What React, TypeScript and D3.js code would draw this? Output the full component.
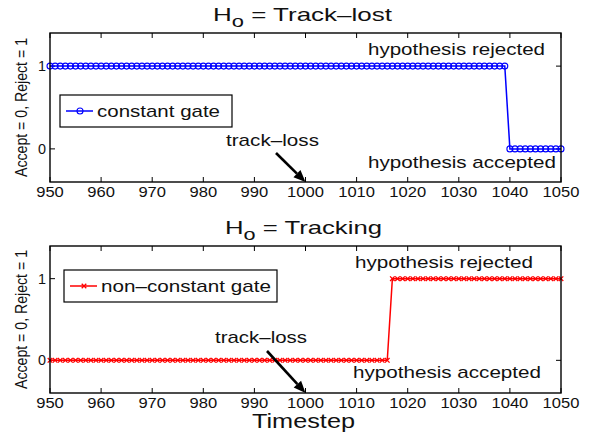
import React from "react";
import * as d3 from "d3";

// Timesteps shown on both panels
const timesteps: number[] = d3.range(950, 1051);
// Timestep at which each test changes its decision
const constantGateSwitch = 1040; // rejects (1) before, accepts (0) from here on
const nonConstantGateSwitch = 1017; // accepts (0) before, rejects (1) from here on
const constantGate: number[] = timesteps.map((t) => (t < constantGateSwitch ? 1 : 0));
const nonConstantGate: number[] = timesteps.map((t) => (t < nonConstantGateSwitch ? 0 : 1));

const xTicks: number[] = [950, 960, 970, 980, 990, 1000, 1010, 1020, 1030, 1040, 1050];
const yTicks: number[] = [0, 1];
const trackLossStep = 1000;

const W = 592;
const H = 437;
const FONT = "'Liberation Sans', Arial, Helvetica, sans-serif";

const left = 50;
const right = 561;
const xScale = d3.scaleLinear().domain([950, 1050]).range([left, right]);

// Wide Helvetica-style text: size sets glyph height, len sets rendered width
function T(props: {
  x: number;
  y: number;
  size: number;
  len: number;
  anchor?: "start" | "middle" | "end";
  children: React.ReactNode;
  transform?: string;
}) {
  return (
    <text
      x={props.x}
      y={props.y}
      fontSize={props.size}
      fontFamily={FONT}
      textAnchor={props.anchor || "start"}
      textLength={props.len}
      lengthAdjust="spacingAndGlyphs"
      transform={props.transform}
      fill="#111"
    >
      {props.children}
    </text>
  );
}

function Marker({ kind, x, y, color }: { kind: "o" | "x"; x: number; y: number; color: string }) {
  if (kind === "o") {
    return <circle cx={x} cy={y} r={3} fill="none" stroke={color} strokeWidth={1.1} />;
  }
  const s = 2.3;
  return (
    <path
      d={`M${x - s},${y - s}L${x + s},${y + s}M${x - s},${y + s}L${x + s},${y - s}`}
      stroke={color}
      strokeWidth={1.3}
    />
  );
}

type PanelProps = {
  top: number;
  bottom: number;
  values: number[];
  color: string;
  marker: "o" | "x";
  title: string;
  titleX: number;
  titleLen: number;
  legend: string;
  legendLen: number;
  legendBox: { x: number; y: number; w: number; h: number };
  rejected: [number, number, number];
  accepted: [number, number, number];
  lossText: [number, number, number];
  arrowStart: [number, number];
};

function Panel(p: PanelProps) {
  const y = d3.scaleLinear().domain([-0.4, 1.4]).range([p.bottom, p.top]);
  const line = d3
    .line<number>()
    .x((_, i) => xScale(timesteps[i]))
    .y((v) => y(v));
  const tickLen = 5;
  const tip: [number, number] = [xScale(trackLossStep), p.bottom];
  const ang = Math.atan2(tip[1] - p.arrowStart[1], tip[0] - p.arrowStart[0]);
  const ah = 12;
  const aw = 5;
  const bx = tip[0] - ah * Math.cos(ang);
  const by = tip[1] - ah * Math.sin(ang);
  const px = -Math.sin(ang) * aw;
  const py = Math.cos(ang) * aw;
  const lb = p.legendBox;
  const ly = lb.y + lb.h / 2;
  return (
    <g>
      <text
        x={p.titleX}
        y={p.top - 12}
        fontSize={19}
        fontFamily={FONT}
        fill="#111"
        textLength={p.titleLen}
        lengthAdjust="spacingAndGlyphs"
      >
        <tspan>H</tspan>
        <tspan fontSize={16} dy={6}>o</tspan>
        <tspan dy={-6}>{" = " + p.title}</tspan>
      </text>
      {/* ticks on all four sides, pointing inward */}
      {xTicks.map((t) => (
        <g key={"x" + t}>
          <line x1={xScale(t)} x2={xScale(t)} y1={p.bottom} y2={p.bottom - tickLen} stroke="#000" />
          <line x1={xScale(t)} x2={xScale(t)} y1={p.top} y2={p.top + tickLen} stroke="#000" />
          <T x={xScale(t)} y={p.bottom + 15} size={14.5} len={String(t).length * 9.2} anchor="middle">
            {t}
          </T>
        </g>
      ))}
      {yTicks.map((t) => (
        <g key={"y" + t}>
          <line x1={left} x2={left + tickLen} y1={y(t)} y2={y(t)} stroke="#000" />
          <line x1={right} x2={right - tickLen} y1={y(t)} y2={y(t)} stroke="#000" />
          <T x={46} y={y(t) + 5} size={14.5} len={8} anchor="end">
            {t}
          </T>
        </g>
      ))}
      <T
        x={0}
        y={0}
        size={16}
        len={139}
        anchor="middle"
        transform={`translate(${27},${(p.top + p.bottom) / 2}) rotate(-90)`}
      >
        Accept = 0, Reject = 1
      </T>
      <path d={line(p.values) || ""} fill="none" stroke={p.color} strokeWidth={1.5} />
      {p.values.map((v, i) => (
        <Marker key={i} kind={p.marker} x={xScale(timesteps[i])} y={y(v)} color={p.color} />
      ))}
      <T x={p.rejected[0]} y={p.rejected[1]} size={17} len={p.rejected[2]}>
        hypothesis rejected
      </T>
      <T x={p.accepted[0]} y={p.accepted[1]} size={17} len={p.accepted[2]}>
        hypothesis accepted
      </T>
      <T x={p.lossText[0]} y={p.lossText[1]} size={17} len={p.lossText[2]}>
        track–loss
      </T>
      <line x1={p.arrowStart[0]} y1={p.arrowStart[1]} x2={bx} y2={by} stroke="#000" strokeWidth={2.6} />
      <path d={`M${tip[0]},${tip[1]}L${bx + px},${by + py}L${bx - px},${by - py}Z`} fill="#000" />
      <rect x={lb.x} y={lb.y} width={lb.w} height={lb.h} fill="#fff" stroke="#000" strokeWidth={1.2} />
      <line x1={lb.x + 6} x2={lb.x + 33} y1={ly} y2={ly} stroke={p.color} strokeWidth={1.5} />
      <Marker kind={p.marker} x={lb.x + 20} y={ly} color={p.color} />
      <T x={lb.x + 37} y={ly + 6} size={17} len={p.legendLen}>
        {p.legend}
      </T>
      <rect
        x={left}
        y={p.top}
        width={right - left}
        height={p.bottom - p.top}
        fill="none"
        stroke="#000"
        strokeWidth={1.4}
      />
    </g>
  );
}

export default function App() {
  return (
    <svg width={W} height={H} style={{ position: "absolute", left: 0, top: 0, background: "#fff" }}>
      <rect width={W} height={H} fill="#fff" />
      <Panel
        top={33}
        bottom={182}
        values={constantGate}
        color="#0000ff"
        marker="o"
        title="Track–lost"
        titleX={213}
        titleLen={179}
        legend="constant gate"
        legendLen={123}
        legendBox={{ x: 60, y: 95, w: 172, h: 32 }}
        rejected={[368, 55, 177]}
        accepted={[368, 168, 188]}
        lossText={[226, 146, 93]}
        arrowStart={[276, 153]}
      />
      <Panel
        top={246}
        bottom={393}
        values={nonConstantGate}
        color="#ff0000"
        marker="x"
        title="Tracking"
        titleX={225}
        titleLen={157}
        legend="non–constant gate"
        legendLen={170}
        legendBox={{ x: 64, y: 270, w: 213, h: 32 }}
        rejected={[355, 268, 178]}
        accepted={[353, 378, 188]}
        lossText={[215, 343, 92]}
        arrowStart={[267, 351]}
      />
      <T x={252} y={428} size={20} len={103}>
        Timestep
      </T>
    </svg>
  );
}
